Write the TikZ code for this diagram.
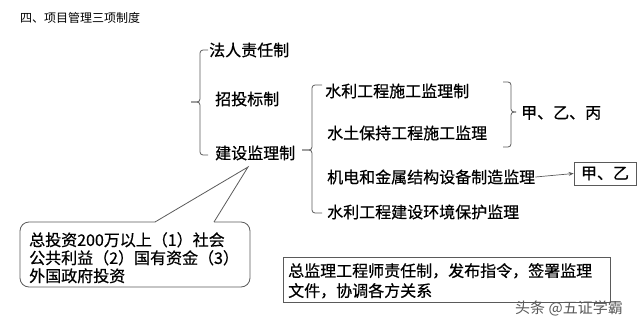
\documentclass[tikz,border=0pt]{standalone}
\usepackage{fontspec}
\setmainfont{Noto Sans CJK SC}
\newfontfamily\heavycjk[FakeBold=0.6]{Noto Sans CJK SC}
\usetikzlibrary{arrows.meta}
\definecolor{linegray}{HTML}{5A5A5A}
\tikzset{
  lbl/.style={anchor=west, inner sep=0pt, font=\heavycjk\fontsize{16}{18}\selectfont, text=black},
  brace/.style={draw=linegray, line width=0.8pt, rounded corners=3pt},
  boxline/.style={draw=linegray, line width=0.8pt}
}
\begin{document}
\begin{tikzpicture}[x=1pt,y=-1pt]
\useasboundingbox (0,0) rectangle (640,324);
% title
\node[anchor=west, inner sep=0pt, font=\fontsize{12}{14}\selectfont, text=black] (title) at (20,18) {四、项目管理三项制度};
% first level
\node[lbl] (fr) at (209,50) {法人责任制};
\node[lbl] (zt) at (215,99) {招投标制};
\node[lbl] (js) at (215,153) {建设监理制};
% second level
\node[lbl] (s1) at (325,91) {水利工程施工监理制};
\node[lbl] (s2) at (327,133) {水土保持工程施工监理};
\node[lbl] (s3) at (327,177) {机电和金属结构设备制造监理};
\node[lbl] (s4) at (327,212) {水利工程建设环境保护监理};
% grades
\node[lbl] (abc) at (521,113) {甲、乙、丙};
\node[boxline, inner sep=0pt, minimum width=62pt, minimum height=23pt, font=\heavycjk\fontsize{16}{18}\selectfont] (ab) at (605,173.5) {甲、乙};
% braces
\draw[brace] (208,50) -| (200,102) -- (191,102);
\draw[brace] (191,102) -- (200,102) |- (208,155);
\draw[brace] (322,85) -| (312,150) -- (302,150);
\draw[brace] (302,150) -- (312,150) |- (322,213);
\draw[brace] (503,82) -| (511,112) -- (516,112);
\draw[brace] (516,112) -- (511,112) |- (503,147);
% arrow
\draw[draw=linegray, line width=0.7pt, -{Stealth[length=5pt,width=4pt]}] (s3.east) -- (ab.west);
% callout
\coordinate (apex) at (248,167);
\draw[boxline, rounded corners=9pt] (214,222) -- (250,222) -- (250,287) -- (20,287) -- (20,222) -- (155,222);
\draw[boxline, line join=miter] (155,222) -- (apex) -- (214,222);
\node[anchor=north west, inner sep=0pt, align=left, font=\heavycjk\fontsize{16}{18}\selectfont, text=black] (call) at (29,232) {总投资200万以上（1）社会\\公共利益（2）国有资金（3）\\外国政府投资};
% bottom box
\draw[boxline] (283,257) rectangle (610,302);
\node[anchor=north west, inner sep=0pt, align=left, font=\heavycjk\fontsize{16}{20}\selectfont, text=black] (zj) at (288,263) {总监理工程师责任制，发布指令，签署监理\\文件，协调各方关系};
% watermark
\node[anchor=west, inner sep=0pt, font=\fontsize{15}{17}\selectfont, text=black!65] (wm) at (515,308) {头条 @五证学霸};
\end{tikzpicture}
\end{document}
